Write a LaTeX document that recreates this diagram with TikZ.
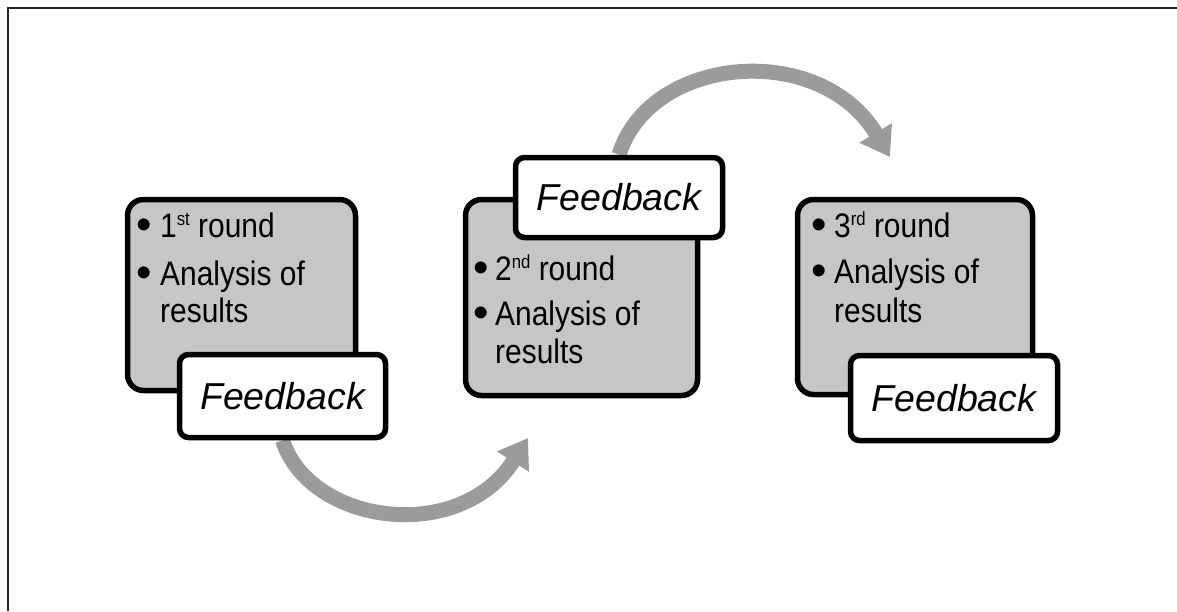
\documentclass[tikz,border=0pt]{standalone}
\usepackage{fontspec}
\setmainfont{Liberation Sans}
\newfontfamily\itemfont[FakeStretch=0.88]{Liberation Sans}
\usetikzlibrary{arrows.meta,backgrounds}
\definecolor{boxgray}{RGB}{198,198,198}
\definecolor{arrowgray}{RGB}{155,155,155}
\newcommand{\ordsup}[1]{\raisebox{0.33em}{\fontsize{19}{19}\selectfont #1}}
\begin{document}
\begin{tikzpicture}[x=1pt,y=-1pt,
  roundbox/.style={draw=black, line width=5.5pt, fill=boxgray, rounded corners=16pt, inner sep=0pt},
  fbbox/.style={draw=black, line width=5.5pt, fill=white, rounded corners=9pt, inner sep=0pt,
    font=\fontsize{37.5}{44}\selectfont\itshape},
  itemtxt/.style={anchor=base west, inner sep=0pt, font=\itemfont\fontsize{34}{38}\selectfont},
  bulletmark/.style={anchor=base west, inner sep=0pt, font=\fontsize{44}{44}\selectfont},
  looparrow/.style={line width=15pt, draw=arrowgray, -{Triangle[width=36pt,length=28pt]}},
  framestyle/.style={line width=2pt, draw=black!85}
]
\useasboundingbox (0,0) rectangle (1177,611);
\draw[framestyle] (8,611) -- (8,8) -- (1177,8);

% box 1
\node[roundbox, minimum width=228pt, minimum height=191pt] (b1) at (241.5,295) {};
\node[fbbox, minimum width=206pt, minimum height=83pt] (fb1) at (282.5,396) {Feedback};
\node[bulletmark] (b1bu1) at (136,239) {•};
\node[itemtxt] (b1t1) at (160,237) {1\ordsup{st} round};
\node[bulletmark] (b1bu2) at (136,287) {•};
\node[itemtxt] (b1t2) at (160,285) {Analysis of};
\node[itemtxt] (b1t3) at (160,322) {results};

% box 2
\node[roundbox, minimum width=232pt, minimum height=196pt] (b2) at (581.5,297.5) {};
\node[fbbox, minimum width=207pt, minimum height=80pt] (fb2) at (619,197.5) {Feedback};
\node[bulletmark] (b2bu1) at (473,282) {•};
\node[itemtxt] (b2t1) at (495,280) {2\ordsup{nd} round};
\node[bulletmark] (b2bu2) at (473,327) {•};
\node[itemtxt] (b2t2) at (495,325) {Analysis of};
\node[itemtxt] (b2t3) at (495,363) {results};

% box 3
\node[roundbox, minimum width=235pt, minimum height=195pt] (b3) at (915,297) {};
\node[fbbox, minimum width=207pt, minimum height=85pt] (fb3) at (954,398) {Feedback};
\node[bulletmark] (b3bu1) at (811,239) {•};
\node[itemtxt] (b3t1) at (834,237) {3\ordsup{rd} round};
\node[bulletmark] (b3bu2) at (811,285) {•};
\node[itemtxt] (b3t2) at (834,283) {Analysis of};
\node[itemtxt] (b3t3) at (834,322) {results};

% arrows
\coordinate (tip1) at (528,438);
\coordinate (tip2) at (890,157);
\begin{scope}[on background layer]
\draw[looparrow] (fb1.south) .. controls (310,525) and (460,545) .. (tip1);
\draw[looparrow] (fb2.north) .. controls (650,55) and (820,40) .. (tip2);
\end{scope}
\end{tikzpicture}
\end{document}
